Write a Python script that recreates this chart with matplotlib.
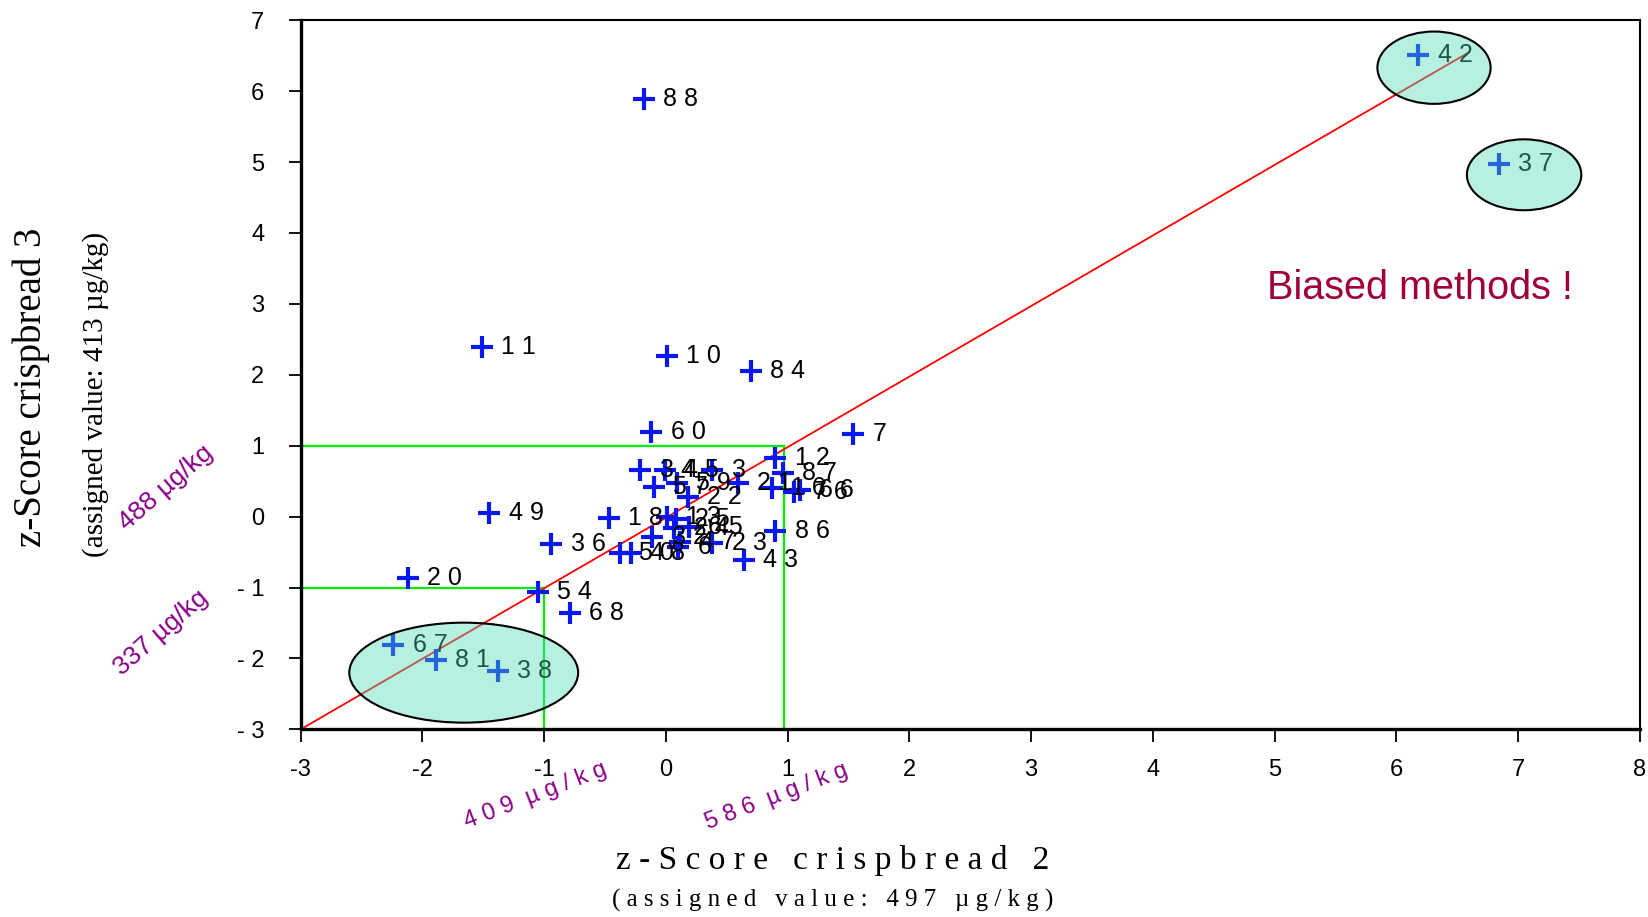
import matplotlib.pyplot as plt
from matplotlib.patches import Ellipse

# laboratory codes and their z-scores (crispbread 2 on x, crispbread 3 on y)
labs = ["88", "42", "37", "11", "10", "84", "60", "7", "12",
        "34", "45", "3", "57", "59", "22", "21", "87", "16", "76", "66",
        "49", "18", "13", "25", "24", "65", "32", "47", "6", "23", "86",
        "43", "36", "50", "48", "20", "54", "68", "67", "81", "38"]
z2 = [-0.18, 6.18, 6.84, -1.51, 0.01, 0.70, -0.12, 1.54, 0.90,
      -0.21, -0.01, 0.38, -0.10, 0.09, 0.18, 0.59, 0.96, 0.87, 1.05, 1.10,
      -1.45, -0.47, 0.01, 0.08, 0.07, 0.19, -0.11, 0.12, 0.10, 0.38, 0.90,
      0.64, -0.94, -0.38, -0.29, -2.12, -1.05, -0.79, -2.24, -1.89, -1.38]
z3 = [5.89, 6.51, 4.97, 2.39, 2.26, 2.05, 1.20, 1.17, 0.82,
      0.66, 0.66, 0.66, 0.42, 0.47, 0.28, 0.47, 0.61, 0.40, 0.35, 0.37,
      0.05, -0.02, -0.01, -0.03, -0.16, -0.15, -0.29, -0.36, -0.43, -0.37, -0.20,
      -0.61, -0.38, -0.51, -0.51, -0.87, -1.06, -1.36, -1.81, -2.02, -2.17]

# reference line and |z| = 1 limits
diag_x = [-3, 6.6]
diag_y = [-3, 6.55]
lim_lo = -1
lim_hi = 0.97


def spaced(s):
    # wide letter spacing like the original slide
    return " ".join(s)


fig = plt.figure(figsize=(16.48, 9.17), dpi=100)
ax = fig.add_axes([0.1824, 0.2046, 0.8126, 0.7734])

ax.plot([-3, lim_hi], [1, 1], color="#00ee00", lw=1.6, zorder=1)
ax.plot([lim_hi, lim_hi], [-3, 1], color="#00ee00", lw=1.6, zorder=1)
ax.plot([-3, lim_lo], [-1, -1], color="#00ee00", lw=1.6, zorder=1)
ax.plot([lim_lo, lim_lo], [-3, -1], color="#00ee00", lw=1.6, zorder=1)
ax.plot(diag_x, diag_y, color="red", lw=1.3, zorder=2)

ax.plot(z2, z3, "+", color="#0a18f0", ms=16, mew=3, zorder=3)
for lab, x, y in zip(labs, z2, z3):
    ax.annotate(spaced(lab), (x, y), xytext=(14, 0), textcoords="offset points",
                va="center", ha="left", fontsize=18, family="Liberation Sans",
                color="black", zorder=4)

# highlighted groups
face = (0.30, 0.85, 0.70, 0.40)
for cx, cy, w, h in [(-1.66, -2.2, 1.88, 1.41), (6.31, 6.33, 0.93, 1.02),
                     (7.05, 4.82, 0.94, 1.0)]:
    ax.add_patch(Ellipse((cx, cy), w, h, facecolor=face, edgecolor="black",
                         lw=1.5, zorder=5))

ax.text(4.94, 3.22, "Biased methods !", color="#a00038", fontsize=28.5,
        family="Liberation Sans", va="center", ha="left")

ax.set_xlim(-3, 8)
ax.set_ylim(-3, 7)
ax.set_xticks(range(-3, 9))
ax.set_xticklabels([str(v) for v in range(-3, 9)], fontsize=17,
                   family="Liberation Sans")
ax.set_yticks(range(-3, 8))
ax.set_yticklabels([("- " + str(-v)) if v < 0 else str(v) for v in range(-3, 8)],
                   fontsize=17, family="Liberation Sans")
ax.tick_params(axis="x", direction="out", length=9, width=1.3, pad=12, top=False)
ax.tick_params(axis="y", direction="out", length=9, width=1.3, pad=17, right=False)
for s in ["left", "bottom"]:
    ax.spines[s].set_linewidth(2.4)
for s in ["top", "right"]:
    ax.spines[s].set_linewidth(1.5)

fig.text(0.505, 0.062, "z - S c o r e   c r i s p b r e a d   2", ha="center",
         va="center", fontsize=24, family="Liberation Serif")
fig.text(0.505, 0.018, spaced("(assigned value: 497 µg/kg)"), ha="center",
         va="center", fontsize=18, family="Liberation Serif")
fig.text(0.019, 0.578, "z-Score crispbread 3", ha="center", va="center",
         rotation=90, fontsize=28, family="Liberation Serif")
fig.text(0.058, 0.570, "(assigned value: 413 µg/kg)", ha="center", va="center",
         rotation=90, fontsize=21, family="Liberation Serif")

purple = "#880088"
fig.text(0.101, 0.468, "488 µg/kg", color=purple, rotation=41, fontsize=19,
         ha="center", va="center", family="Liberation Sans")
fig.text(0.098, 0.310, "337 µg/kg", color=purple, rotation=41, fontsize=19,
         ha="center", va="center", family="Liberation Sans")
fig.text(0.325, 0.132, "4 0 9  µ g / k g", color=purple, rotation=21, fontsize=17,
         ha="center", va="center", family="Liberation Sans")
fig.text(0.471, 0.131, "5 8 6  µ g / k g", color=purple, rotation=21, fontsize=17,
         ha="center", va="center", family="Liberation Sans")

fig.savefig("out.png", dpi=100)
